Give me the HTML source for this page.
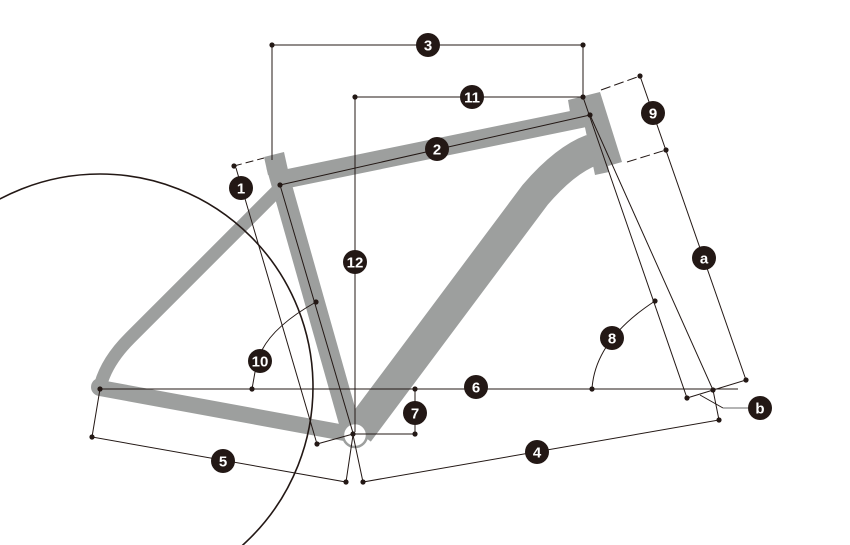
<!DOCTYPE html>
<html><head><meta charset="utf-8"><style>
html,body{margin:0;padding:0;background:#fff;width:850px;height:545px;overflow:hidden;}
svg{display:block;overflow:hidden;}
text{font-family:"Liberation Sans",sans-serif;font-weight:bold;fill:#fff;font-size:15px;text-anchor:middle;dominant-baseline:central;}
</style></head><body>
<svg width="850" height="545" viewBox="0 0 850 545" xmlns="http://www.w3.org/2000/svg">
<defs><clipPath id="c"><rect x="0" y="0" width="850" height="545"/></clipPath></defs>
<g clip-path="url(#c)">
<g fill="#9d9f9e" stroke="none">
  <polygon points="568,100 600,92 622,162 608,166 609,172 595,175 583,118 570,112"/>
  <polygon points="264,157 284,152 288,170 268,175"/>
</g>
<g fill="none" stroke="#9d9f9e" stroke-linecap="butt">
  <line x1="276" y1="181" x2="588" y2="117" stroke-width="19"/>
  <line x1="276" y1="165" x2="351" y2="430" stroke-width="20"/>
  <path d="M592,150 Q565,160 535,195 L358,432" stroke-width="32"/>
  <path d="M282,186 L130,338 Q106,362 100,387" stroke-width="13"/>
  <line x1="100" y1="388" x2="350" y2="434" stroke-width="16"/>
</g>
<circle cx="100" cy="387" r="9" fill="#9d9f9e"/>
<circle cx="355" cy="435" r="12" fill="#fff" stroke="#9d9f9e" stroke-width="2.5"/>

<circle cx="100" cy="387" r="213" fill="none" stroke="#231815" stroke-width="1.6"/>

<g stroke="#231815" stroke-width="1" fill="none">
  <polyline points="272,160 272,45 583,45 583,97"/>
  <polyline points="355,432 355,97 583,97"/>
  <line x1="280" y1="185" x2="590" y2="115"/>
  <line x1="280" y1="185" x2="353" y2="433"/>
  <line x1="234" y1="166" x2="264" y2="158" stroke-dasharray="8,4"/>
  <line x1="236" y1="168" x2="317" y2="444"/>
  <line x1="317" y1="444" x2="353" y2="434"/>
  <line x1="100" y1="389" x2="738" y2="389"/>
  <polyline points="353,434 415,434 415,389"/>
  <path d="M316,302 Q275,325 262,350"/>
  <line x1="255" y1="372" x2="252" y2="389"/>
  <polyline points="100,389 92,437 346,482 353,435"/>
  <polyline points="353,435 363,482 719,420 713,390"/>
  <line x1="583" y1="97" x2="687" y2="398"/>
  <line x1="590" y1="115" x2="713" y2="390"/>
  <line x1="687" y1="398" x2="746" y2="380"/>
  <line x1="640" y1="76" x2="746" y2="380"/>
  <line x1="601" y1="90" x2="640" y2="76" stroke-dasharray="10,4"/>
  <line x1="627" y1="162" x2="666" y2="150" stroke-dasharray="10,4"/>
  <path d="M592,389 Q595,340 655,301"/>
  <polyline points="700,395 723,408"/>
</g>
<line x1="723" y1="408" x2="748" y2="408" stroke="#888" stroke-width="1.2"/>

<g fill="#231815">
  <circle cx="272" cy="45" r="2.6"/><circle cx="583" cy="45" r="2.6"/>
  <circle cx="355" cy="97" r="2.6"/><circle cx="583" cy="97" r="2.6"/>
  <circle cx="280" cy="185" r="2.6"/><circle cx="590" cy="115" r="2.6"/>
  <circle cx="234" cy="166" r="2.6"/><circle cx="317" cy="444" r="2.6"/>
  <circle cx="316" cy="302" r="2.6"/><circle cx="252" cy="389" r="2.6"/>
  <circle cx="100" cy="389" r="2.6"/><circle cx="415" cy="389" r="2.6"/>
  <circle cx="415" cy="434" r="2.6"/><circle cx="353" cy="434" r="2.6"/>
  <circle cx="92" cy="437" r="2.6"/><circle cx="346" cy="482" r="2.6"/>
  <circle cx="363" cy="482" r="2.6"/><circle cx="719" cy="420" r="2.6"/>
  <circle cx="713" cy="390" r="2.6"/><circle cx="687" cy="398" r="2.6"/>
  <circle cx="746" cy="380" r="2.6"/><circle cx="640" cy="76" r="2.6"/>
  <circle cx="666" cy="150" r="2.6"/><circle cx="655" cy="301" r="2.6"/>
  <circle cx="592" cy="389" r="2.6"/>
</g>

<g>
  <circle cx="428" cy="45" r="12" fill="#231815"/><text x="428" y="46">3</text>
  <circle cx="472" cy="97" r="12" fill="#231815"/><text x="472" y="98">11</text>
  <circle cx="437" cy="149" r="12" fill="#231815"/><text x="437" y="150">2</text>
  <circle cx="241" cy="188" r="12" fill="#231815"/><text x="241" y="189">1</text>
  <circle cx="355" cy="262" r="12" fill="#231815"/><text x="355" y="263">12</text>
  <circle cx="260" cy="361" r="12" fill="#231815"/><text x="260" y="362">10</text>
  <circle cx="476" cy="387" r="12" fill="#231815"/><text x="476" y="388">6</text>
  <circle cx="415" cy="413" r="12" fill="#231815"/><text x="415" y="414">7</text>
  <circle cx="223" cy="461" r="12" fill="#231815"/><text x="223" y="462">5</text>
  <circle cx="537" cy="452" r="12" fill="#231815"/><text x="537" y="453">4</text>
  <circle cx="612" cy="338" r="12" fill="#231815"/><text x="612" y="339">8</text>
  <circle cx="653" cy="113" r="12" fill="#231815"/><text x="653" y="114">9</text>
  <circle cx="704" cy="258" r="12" fill="#231815"/><text x="704" y="259">a</text>
  <circle cx="760" cy="408" r="12" fill="#231815"/><text x="760" y="409">b</text>
</g>
</g>
</svg>
</body></html>
